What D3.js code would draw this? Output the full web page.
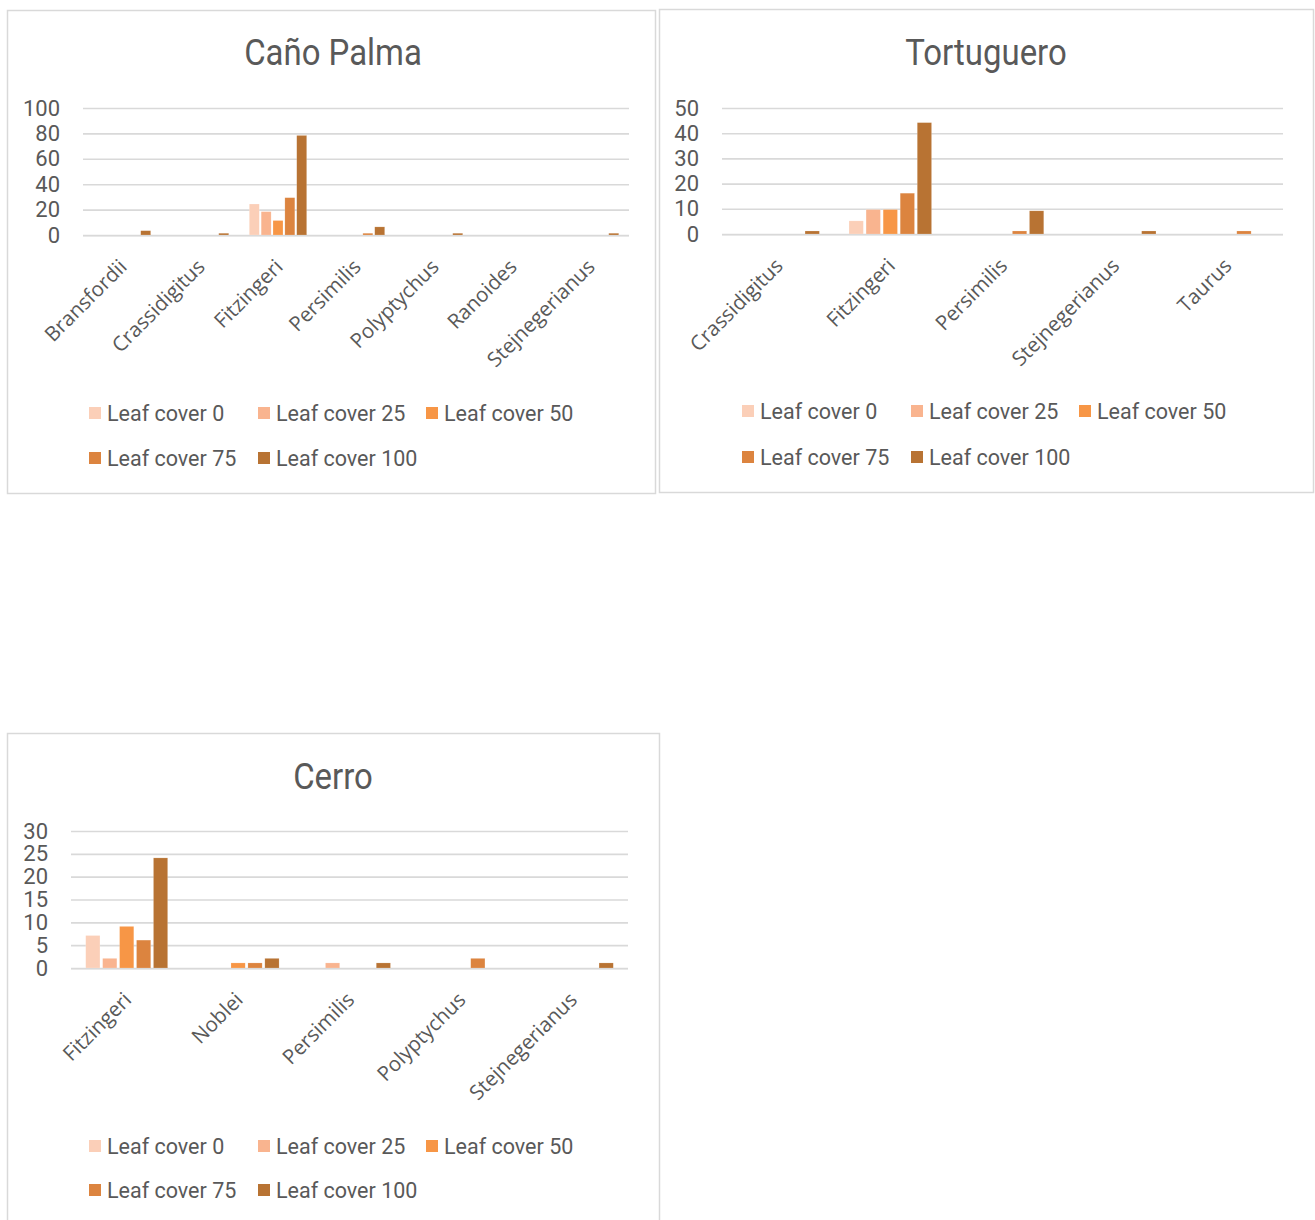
<!DOCTYPE html>
<html>
<head>
<meta charset="utf-8">
<script src="https://cdn.jsdelivr.net/npm/d3@7"></script>
<style>
  html, body { margin: 0; padding: 0; background: #ffffff; }
  svg { display: block; }
</style>
</head>
<body>
<svg id="chart" width="1315" height="1220"></svg>
<script>
// Series shared by all three panels
const seriesNames = ["Leaf cover 0", "Leaf cover 25", "Leaf cover 50", "Leaf cover 75", "Leaf cover 100"];
const seriesColors = ["#fbcfb8", "#f9b48f", "#f79646", "#dc843f", "#b87333"];

// Caño Palma
const canoCategories = ["Bransfordii", "Crassidigitus", "Fitzingeri", "Persimilis", "Polyptychus", "Ranoides", "Stejnegerianus"];
const canoLeaf0   = [0, 0, 24, 0, 0, 0, 0];
const canoLeaf25  = [0, 0, 18, 0, 0, 0, 0];
const canoLeaf50  = [0, 0, 11, 0, 0, 0, 0];
const canoLeaf75  = [0, 0, 29, 1, 0, 0, 0];
const canoLeaf100 = [3, 1, 78, 6, 1, 0, 1];
const canoTicks = [0, 20, 40, 60, 80, 100];

// Tortuguero
const tortCategories = ["Crassidigitus", "Fitzingeri", "Persimilis", "Stejnegerianus", "Taurus"];
const tortLeaf0   = [0, 5, 0, 0, 0];
const tortLeaf25  = [0, 9.5, 0, 0, 0];
const tortLeaf50  = [0, 9.5, 0, 0, 0];
const tortLeaf75  = [0, 16, 1, 0, 1];
const tortLeaf100 = [1, 44, 9, 1, 0];
const tortTicks = [0, 10, 20, 30, 40, 50];

// Cerro
const cerroCategories = ["Fitzingeri", "Noblei", "Persimilis", "Polyptychus", "Stejnegerianus"];
const cerroLeaf0   = [7, 0, 0, 0, 0];
const cerroLeaf25  = [2, 0, 1, 0, 0];
const cerroLeaf50  = [9, 1, 0, 0, 0];
const cerroLeaf75  = [6, 1, 0, 2, 0];
const cerroLeaf100 = [24, 2, 1, 0, 1];
const cerroTicks = [0, 5, 10, 15, 20, 25, 30];

const NUM_FONT = "Roboto, 'Liberation Sans', sans-serif";
const CAT_FONT = "'Open Sans', 'Noto Sans', sans-serif";
const TEXT_COLOR = "#595959";
const GRID_COLOR = "#d9d9d9";

const svg = d3.select("#chart");

function drawPanel(p) {
  const g = svg.append("g");

  // outer frame
  g.append("rect")
    .attr("x", p.frame[0]).attr("y", p.frame[1])
    .attr("width", p.frame[2]).attr("height", p.frame[3])
    .attr("fill", "#fff").attr("stroke", GRID_COLOR).attr("stroke-width", 1.5);

  // title, slightly condensed
  g.append("text")
    .attr("transform", `translate(${p.titleX},${p.titleY}) scale(0.89,1)`)
    .attr("text-anchor", "middle")
    .attr("font-family", NUM_FONT).attr("font-size", 37)
    .attr("fill", TEXT_COLOR)
    .text(p.title);

  const y = d3.scaleLinear().domain([0, d3.max(p.ticks)]).range([p.plot.bottom, p.plot.top]);
  const x0 = d3.scaleBand().domain(p.categories).range([p.plot.left, p.plot.right])
    .paddingInner(0.24).paddingOuter(0.12);
  const x1 = d3.scaleBand().domain(seriesNames).range([0, x0.bandwidth()])
    .paddingInner(0.16).paddingOuter(0.08);
  const color = d3.scaleOrdinal().domain(seriesNames).range(seriesColors);

  // gridlines + value labels
  const yAxis = d3.axisLeft(y).tickValues(p.ticks).tickSize(-(p.plot.right - p.plot.left)).tickPadding(23);
  const ya = g.append("g").attr("transform", `translate(${p.plot.left},0)`).call(yAxis);
  ya.select(".domain").remove();
  ya.selectAll(".tick line").attr("stroke", GRID_COLOR).attr("stroke-width", 1.6);
  ya.selectAll(".tick text")
    .attr("font-family", NUM_FONT).attr("font-size", 22)
    .attr("fill", TEXT_COLOR);

  // bars
  const rows = p.categories.map((c, i) => ({
    category: c,
    values: seriesNames.map((s, k) => ({ series: s, value: p.series[k][i] }))
  }));
  const groups = g.append("g").selectAll("g").data(rows).join("g")
    .attr("transform", d => `translate(${x0(d.category)},0)`);
  groups.selectAll("rect").data(d => d.values.filter(v => v.value > 0)).join("rect")
    .attr("x", d => x1(d.series))
    .attr("width", x1.bandwidth())
    .attr("y", d => y(d.value) - 0.5)
    .attr("height", d => y(0) - y(d.value) + 0.5)
    .attr("fill", d => color(d.series))
    .attr("stroke", "#ffffff").attr("stroke-opacity", 0.35).attr("stroke-width", 0.5);

  // baseline
  g.append("line")
    .attr("x1", p.plot.left).attr("x2", p.plot.right)
    .attr("y1", y(0) + 0.8).attr("y2", y(0) + 0.8)
    .attr("stroke", GRID_COLOR).attr("stroke-width", 1.6);

  // category labels, rotated
  const xAxis = d3.axisBottom(x0).tickSize(0).tickPadding(0);
  const xa = g.append("g").attr("transform", `translate(0,${p.plot.bottom})`).call(xAxis);
  xa.select(".domain").remove();
  xa.selectAll(".tick text")
    .attr("font-family", CAT_FONT).attr("font-size", 20.5)
    .attr("fill", TEXT_COLOR)
    .attr("text-anchor", "end")
    .attr("dy", "0.35em")
    .attr("transform", "translate(1,28) rotate(-45)");

  // legend
  const leg = g.append("g");
  seriesNames.forEach((s, k) => {
    const pos = p.legend[k];
    leg.append("rect")
      .attr("x", pos[0]).attr("y", pos[1] - 6)
      .attr("width", 12).attr("height", 12)
      .attr("fill", color(s));
    leg.append("text")
      .attr("x", pos[0] + 18).attr("y", pos[1])
      .attr("dy", "0.35em")
      .attr("font-family", NUM_FONT).attr("font-size", 21.5)
      .attr("fill", TEXT_COLOR)
      .text(s);
  });
}

drawPanel({
  title: "Caño Palma",
  frame: [7.5, 10.5, 648, 483],
  titleX: 333, titleY: 65,
  plot: { left: 83, right: 629, top: 108, bottom: 235 },
  categories: canoCategories,
  series: [canoLeaf0, canoLeaf25, canoLeaf50, canoLeaf75, canoLeaf100],
  ticks: canoTicks,
  legend: [[89, 413], [258, 413], [426, 413], [89, 458], [258, 458]]
});

drawPanel({
  title: "Tortuguero",
  frame: [659.5, 9.5, 654, 483],
  titleX: 986, titleY: 65,
  plot: { left: 722, right: 1283, top: 108, bottom: 234 },
  categories: tortCategories,
  series: [tortLeaf0, tortLeaf25, tortLeaf50, tortLeaf75, tortLeaf100],
  ticks: tortTicks,
  legend: [[742, 411], [911, 411], [1079, 411], [742, 457], [911, 457]]
});

drawPanel({
  title: "Cerro",
  frame: [7.5, 733.5, 652, 500],
  titleX: 333, titleY: 789,
  plot: { left: 71, right: 628, top: 831, bottom: 968 },
  categories: cerroCategories,
  series: [cerroLeaf0, cerroLeaf25, cerroLeaf50, cerroLeaf75, cerroLeaf100],
  ticks: cerroTicks,
  legend: [[89, 1146], [258, 1146], [426, 1146], [89, 1190], [258, 1190]]
});
</script>
</body>
</html>
